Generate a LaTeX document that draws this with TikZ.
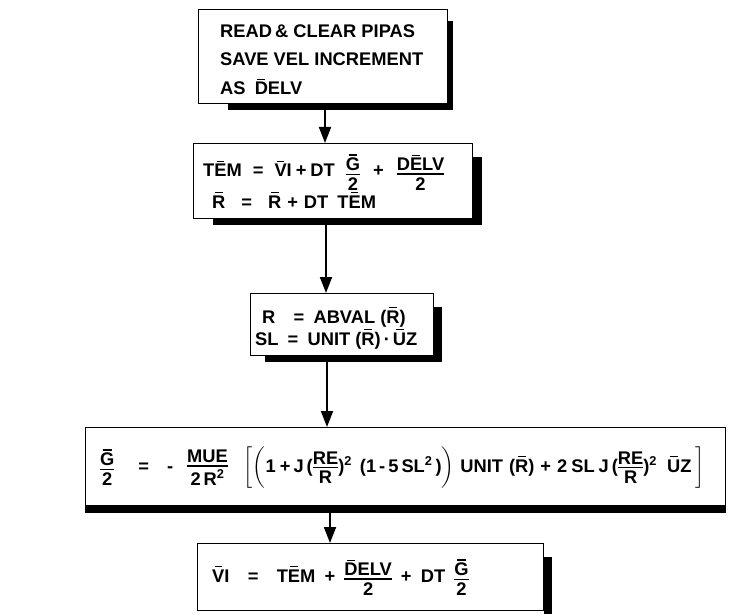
\documentclass[tikz,border=0pt]{standalone}
\usepackage{amsmath}
\usepackage{fontspec}
\setmainfont{Liberation Sans}
\usetikzlibrary{arrows.meta,calc}
\newcommand\ob[1]{\leavevmode\setbox0=\hbox{#1}\vbox{\offinterlineskip\hbox to\wd0{\hss\vrule height 1.8pt depth 0pt width .6\wd0\hss}\kern2pt\box0}}
\newcommand\fr[2]{\ensuremath{\vcenter{\offinterlineskip\halign{\hfil##\hfil\cr\mbox{#1}\cr\noalign{\kern2.5pt\hrule height1.6pt\kern3pt}\mbox{#2}\cr}}}}
\newcommand\sq{\textsuperscript{2}}
\newcommand\hs[1]{\hspace{#1pt}}
\begin{document}
\begin{tikzpicture}[x=1pt,y=-1pt,font=\fontsize{18.3}{22}\selectfont\bfseries]
\tikzset{
  box/.style={draw,line width=1.4pt,fill=white,inner sep=0pt,anchor=north west},
  txt/.style={inner sep=0pt,anchor=base west},
  arr/.style={line width=1.8pt,-{Triangle[width=12pt,length=16pt]}},
}
\useasboundingbox (0,0) rectangle (729,615);
% boxes
\node[box,minimum width=249pt,minimum height=94pt] (b1) at (198,9) {};
\node[box,minimum width=279pt,minimum height=75pt] (b2) at (193,143) {};
\node[box,minimum width=183pt,minimum height=62pt] (b3) at (250,293) {};
\node[box,minimum width=640pt,minimum height=78pt] (b4) at (85,427) {};
\node[box,minimum width=346pt,minimum height=67pt] (b5) at (197,543) {};
% shadows
\fill ($(b1.north east)+(0,12)$) rectangle ($(b1.south east)+(5,6)$);
\fill ($(b1.south west)+(30,0)$) rectangle ($(b1.south east)+(5,6)$);
\fill ($(b2.north east)+(0,14)$) rectangle ($(b2.south east)+(9,6)$);
\fill ($(b2.south west)+(20,0)$) rectangle ($(b2.south east)+(9,6)$);
\fill ($(b3.north east)+(0,14)$) rectangle ($(b3.south east)+(8,6)$);
\fill ($(b3.south west)+(15,0)$) rectangle ($(b3.south east)+(8,6)$);
\fill ($(b4.south west)+(0,0)$) rectangle ($(b4.south east)+(0,7)$);
\fill ($(b5.north east)+(0,14)$) rectangle ($(b5.south east)+(8,3)$);
% texts
\node[txt] (t1a) at (220,38) {READ\,\& CLEAR PIPAS};
\node[txt] (t1b) at (220,66) {SAVE VEL INCREMENT};
\node[txt] (t1c) at (220,95) {AS\enspace\ob{D}ELV};
\node[txt] (t2a) at (203,177) {T\ob{E}M\hs{11}=\hs{11}\ob{V}I\hs{4}+\hs{4}DT\hs{11}\fr{\ob{G}}{2}\hs{13}+\hs{13}\fr{D\ob{E}LV}{2}};
\node[txt] (t2b) at (212,208) {\ob{R}\hs{16}=\hs{16}\ob{R}\hs{6}+\hs{6}DT\hs{9}T\ob{E}M};
\node[txt] (t3a) at (262,323) {R\quad=\enspace ABVAL (\ob{R})};
\node[txt] (t3b) at (255,345) {SL\enspace=\enspace UNIT (\ob{R})\,·\,\ob{U}Z};
\node[txt] (t4) at (100,472) {\fr{\ob{G}}{2}\hs{24}=\hs{18}-\hs{14}\fr{MUE}{2\,R\sq}\hs{16}$\bigg[\bigg($1\hs{4}+\hs{3}J\hs{3}(\fr{RE}{R})\sq\hs{8}(1\hs{3}-\hs{3}5\hs{3}SL\sq\hs{3})$\bigg)$\hs{6}UNIT\hs{6}(\ob{R})\hs{6}+\hs{6}2\hs{4}SL\hs{4}J\hs{3}(\fr{RE}{R})\sq\hs{10}\ob{U}Z\hs{4}$\bigg]$};
\node[txt] (t5) at (212,582) {\ob{V}I\quad=\quad T\ob{E}M\enspace+\enspace\fr{\ob{D}ELV}{2}\enspace+\enspace DT\enspace\fr{\ob{G}}{2}};
% arrows
\coordinate (x1) at (325,0);
\coordinate (x2) at (326,0);
\coordinate (x3) at (327,0);
\coordinate (x4) at (330,0);
\draw[arr] ($(b1.south -| x1)+(0,6)$) -- (b2.north -| x1);
\draw[arr] ($(b2.south -| x2)+(0,6)$) -- (b3.north -| x2);
\draw[arr] ($(b3.south -| x3)+(0,6)$) -- (b4.north -| x3);
\draw[arr] ($(b4.south -| x4)+(0,7)$) -- (b5.north -| x4);
\end{tikzpicture}
\end{document}
